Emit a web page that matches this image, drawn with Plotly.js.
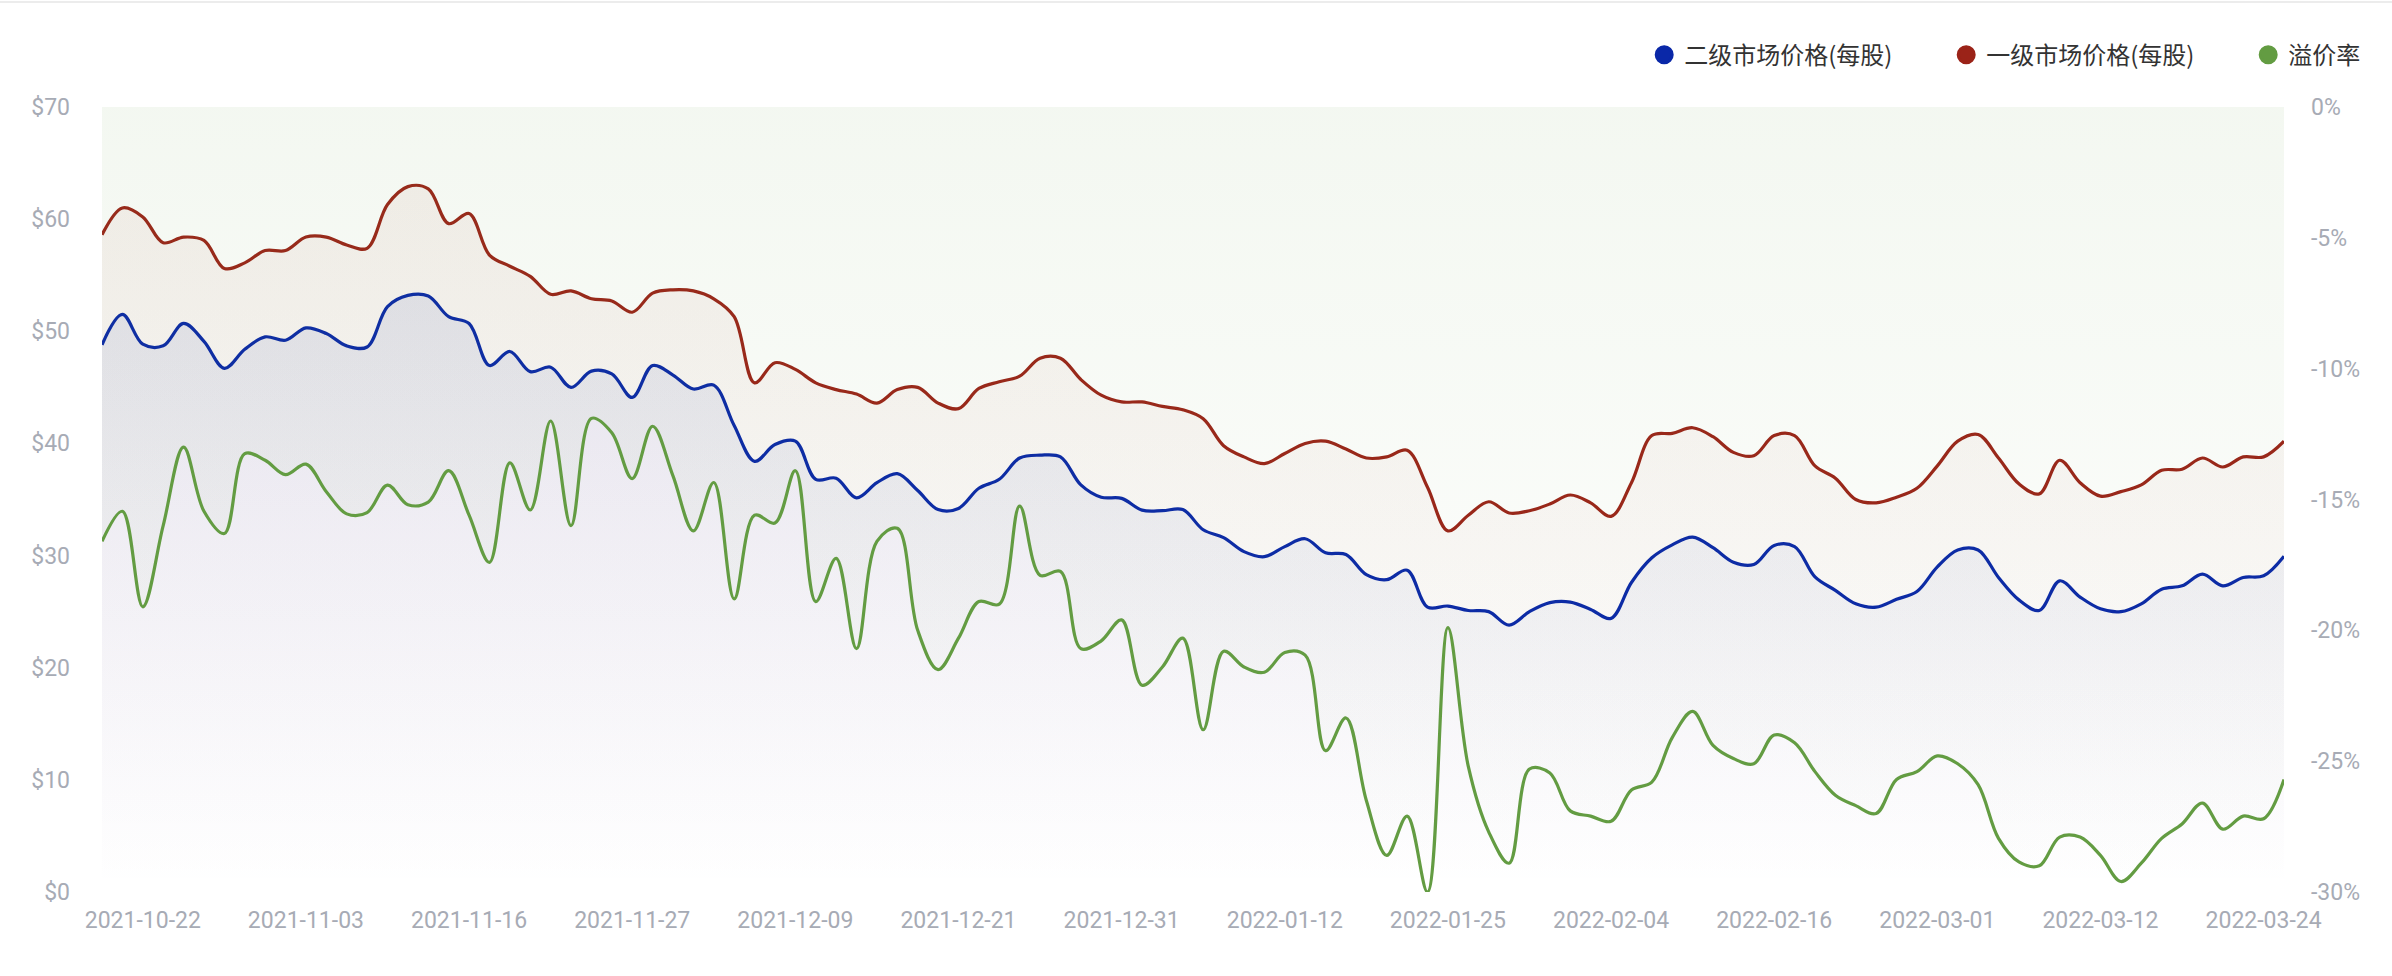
<!DOCTYPE html>
<html>
<head>
<meta charset="utf-8">
<script src="https://cdn.plot.ly/plotly-3.0.1.min.js"></script>
<style>
  html, body { margin: 0; padding: 0; background: #fff; }
  #chart { width: 2392px; height: 976px; }
</style>
</head>
<body>
<div id="chart"></div>
<script>
// date labels shown under the axis and the point index each one sits on
var tickLabels = ["2021-10-22", "2021-11-03", "2021-11-16", "2021-11-27", "2021-12-09", "2021-12-21", "2021-12-31",
  "2022-01-12", "2022-01-25", "2022-02-04", "2022-02-16", "2022-03-01", "2022-03-12", "2022-03-24"];
var tickIndex = [2, 10, 18, 26, 34, 42, 50, 58, 66, 74, 82, 90, 98, 106];

// 二级市场价格(每股)
var secondaryPrice = [
  48.8, 51.5, 48.85, 48.7, 50.7, 49.1, 46.7, 48.4, 49.5, 49.2, 50.3, 49.8, 48.7, 48.6, 52.2, 53.2, 53.15, 51.3,
  50.7, 46.95, 48.2, 46.4, 46.8, 45.0, 46.45, 46.2, 44.1, 46.95, 46.1, 44.85, 45.2, 41.6, 38.4, 39.9, 40.2, 36.8,
  36.9, 35.15, 36.5, 37.3, 35.8, 34.1, 34.2, 36.0, 36.8, 38.7, 38.95, 38.8, 36.3, 35.2, 35.1, 34.05, 34.0, 34.1,
  32.3, 31.6, 30.35, 29.9, 30.8, 31.5, 30.25, 30.1, 28.3, 27.85, 28.7, 25.4, 25.5, 25.1, 25.0, 23.8, 25.0, 25.8,
  25.85, 25.2, 24.4, 27.6, 29.8, 30.95, 31.65, 30.7, 29.4, 29.2, 30.9, 30.8, 28.1, 26.9, 25.7, 25.4, 26.1, 26.8,
  29.0, 30.5, 30.5, 28.05, 26.05, 25.1, 27.75, 26.3, 25.25, 25.0, 25.7, 27.0, 27.3, 28.35, 27.3, 28.05, 28.2, 29.95
];

// 一级市场价格(每股)
var primaryPrice = [
  58.6, 61.0, 60.2, 57.9, 58.4, 58.1, 55.6, 56.1, 57.2, 57.2, 58.4, 58.4, 57.7, 57.4, 61.3, 62.9, 62.7, 59.6,
  60.5, 56.8, 55.8, 54.9, 53.3, 53.6, 52.9, 52.7, 51.7, 53.4, 53.7, 53.6, 52.9, 51.3, 45.4, 47.2, 46.6, 45.4,
  44.8, 44.4, 43.6, 44.8, 45.0, 43.6, 43.1, 44.9, 45.5, 46.0, 47.6, 47.6, 45.7, 44.3, 43.7, 43.7, 43.3, 43.0,
  42.2, 39.8, 38.8, 38.2, 39.1, 40.0, 40.2, 39.5, 38.7, 38.8, 39.4, 36.1, 32.2, 33.6, 34.8, 33.8, 34.0, 34.6,
  35.4, 34.7, 33.5, 36.5, 40.7, 40.9, 41.4, 40.6, 39.2, 38.9, 40.7, 40.7, 38.0, 36.9, 35.0, 34.7, 35.2, 36.0,
  38.0, 40.2, 40.8, 38.7, 36.4, 35.5, 38.5, 36.5, 35.3, 35.7, 36.3, 37.6, 37.7, 38.7, 37.9, 38.8, 38.8, 40.2
];

// 溢价率 (%)
var premiumRate = [
  -16.6, -15.45, -19.1, -16.0, -13.0, -15.45, -16.3, -13.25, -13.5, -14.05, -13.65, -14.7, -15.55, -15.5, -14.45, -15.2, -15.1, -13.9,
  -15.6, -17.4, -13.6, -15.4, -12.0, -16.0, -11.9, -12.45, -14.2, -12.2, -14.1, -16.2, -14.35, -18.8, -15.6, -15.9, -13.9, -18.9,
  -17.25, -20.7, -16.6, -16.1, -20.0, -21.5, -20.3, -18.9, -19.0, -15.25, -17.9, -17.75, -20.7, -20.4, -19.6, -22.1, -21.4, -20.3,
  -23.8, -20.8, -21.4, -21.6, -20.85, -20.95, -24.6, -23.35, -26.5, -28.6, -27.1, -30.0, -19.9, -25.2, -27.7, -28.9, -25.3, -25.45,
  -26.9, -27.1, -27.3, -26.1, -25.8, -24.1, -23.1, -24.4, -24.9, -25.1, -24.0, -24.3, -25.4, -26.3, -26.7, -27.0, -25.7, -25.4,
  -24.8, -25.1, -25.9, -27.95, -28.85, -29.0, -27.9, -27.9, -28.6, -29.6, -28.9, -27.95, -27.4, -26.6, -27.6, -27.1, -27.2, -25.7
];

var leftTickVals = [0, 10, 20, 30, 40, 50, 60, 70];
var leftTickText = ["$0", "$10", "$20", "$30", "$40", "$50", "$60", "$70"];
var rightTickVals = [0, -5, -10, -15, -20, -25, -30];
var rightTickText = ["0%", "-5%", "-10%", "-15%", "-20%", "-25%", "-30%"];

var BLUE = "#0A28A8";
var RED = "#9B2318";
var GREEN = "#639C42";

function drawChart() {
  var xs = secondaryPrice.map(function (_, i) { return i; });
  var tickFont = { family: "Roboto, Helvetica, Arial, sans-serif", size: 23, color: "#a7abb5" };

  var red = {
    x: xs, y: primaryPrice, type: "scatter", mode: "lines", name: "一级市场价格(每股)",
    line: { color: RED, width: 3.2, shape: "spline", smoothing: 1 },
    fill: "tozeroy",
    fillgradient: { type: "vertical", start: 0, stop: 63,
      colorscale: [[0, "rgba(155,35,24,0)"], [1, "rgba(155,35,24,0.06)"]] },
    showlegend: false, hoverinfo: "skip"
  };
  var blue = {
    x: xs, y: secondaryPrice, type: "scatter", mode: "lines", name: "二级市场价格(每股)",
    line: { color: BLUE, width: 3.2, shape: "spline", smoothing: 1 },
    fill: "tozeroy",
    fillgradient: { type: "vertical", start: 0, stop: 53,
      colorscale: [[0, "rgba(10,40,168,0)"], [1, "rgba(10,40,168,0.083)"]] },
    showlegend: false, hoverinfo: "skip"
  };
  var green = {
    x: xs, y: premiumRate, yaxis: "y2", type: "scatter", mode: "lines", name: "溢价率",
    line: { color: GREEN, width: 3.2, shape: "spline", smoothing: 1 },
    fill: "tozeroy",
    fillgradient: { type: "vertical", start: -30, stop: 0,
      colorscale: [[0, "rgba(99,156,66,0)"], [1, "rgba(99,156,66,0.075)"]] },
    showlegend: false, hoverinfo: "skip"
  };

  // legend entries drawn as round markers
  function legendItem(name, color) {
    return {
      x: [null], y: [null], type: "scatter", mode: "markers", name: name,
      marker: { color: color, size: 16, symbol: "circle", line: { color: color, width: 3 } },
      hoverinfo: "skip"
    };
  }

  var layout = {
    width: 2392,
    height: 976,
    margin: { l: 102, r: 108, t: 107, b: 84, autoexpand: false },
    paper_bgcolor: "#ffffff",
    plot_bgcolor: "rgba(0,0,0,0)",
    showlegend: true,
    legend: {
      orientation: "h",
      x: 1.122, xanchor: "right",
      y: 1.066, yanchor: "middle",
      bgcolor: "rgba(0,0,0,0)",
      font: { family: "Noto Sans CJK SC, sans-serif", size: 24, color: "#333333" },
      entrywidthmode: "pixels",
      entrywidth: 257,
      traceorder: "normal"
    },
    xaxis: {
      range: [0, xs.length - 1],
      tickvals: tickIndex,
      ticktext: tickLabels,
      showgrid: false, zeroline: false, showline: false, ticks: "",
      tickfont: tickFont,
      ticklabelstandoff: 12,
      fixedrange: true, automargin: false
    },
    yaxis: {
      range: [0, 70],
      tickvals: leftTickVals,
      ticktext: leftTickText,
      showgrid: false, zeroline: false, showline: false, ticks: "",
      tickfont: tickFont,
      ticklabelstandoff: 31,
      fixedrange: true, automargin: false
    },
    yaxis2: {
      overlaying: "y", side: "right",
      range: [-30, 0],
      tickvals: rightTickVals,
      ticktext: rightTickText,
      showgrid: false, zeroline: false, showline: false, ticks: "",
      tickfont: tickFont,
      ticklabelstandoff: 26,
      fixedrange: true, automargin: false
    },
    shapes: [{
      type: "line", xref: "paper", yref: "paper",
      x0: -0.05, x1: 1.05, y0: 1.1338, y1: 1.1338,
      line: { color: "#ececec", width: 2 }
    }],
    hovermode: false
  };

  Plotly.newPlot("chart",
    [red, blue, green,
      legendItem("二级市场价格(每股)", BLUE),
      legendItem("一级市场价格(每股)", RED),
      legendItem("溢价率", GREEN)],
    layout, { displayModeBar: false, staticPlot: true });
}

drawChart();
</script>
</body>
</html>
